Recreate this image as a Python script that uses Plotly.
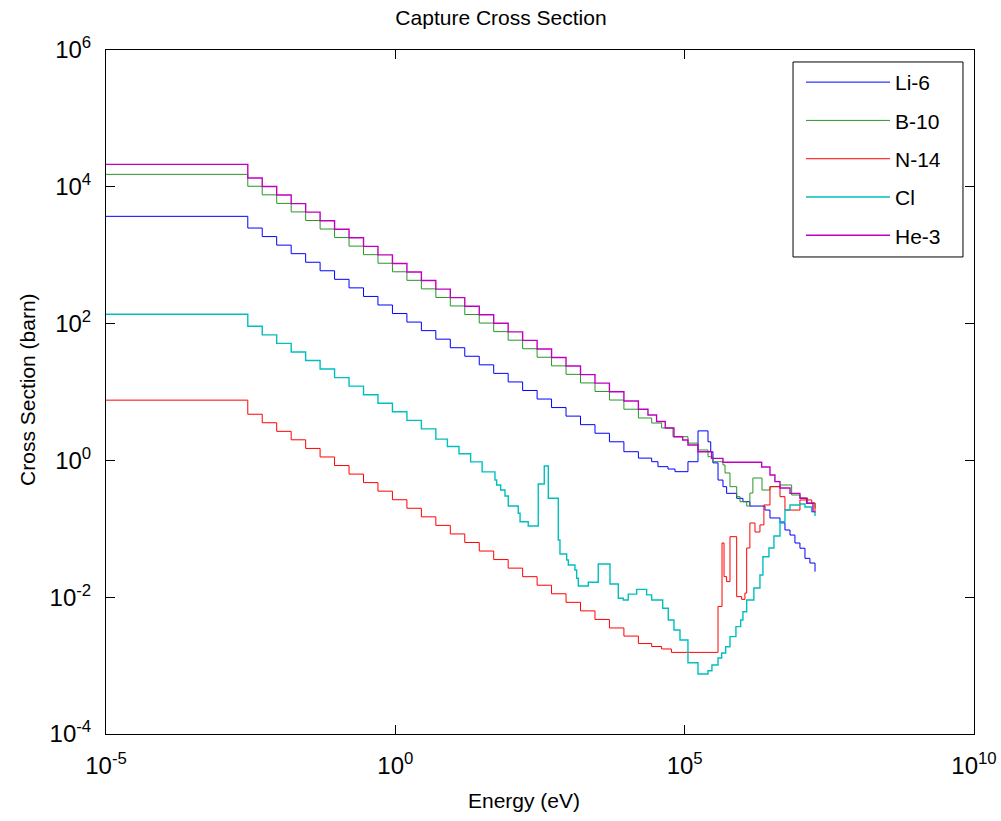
import plotly.graph_objects as go

# ---- data (energy in eV = start of each step, cross section in barn) ----
energy_low = [1e-5, 2.82e-3, 5.01e-3, 8.91e-3, 1.585e-2, 2.82e-2, 5.01e-2, 8.91e-2,
              0.1585, 0.282, 0.501, 0.891, 1.585, 2.82, 5.01, 8.91, 15.85, 28.2,
              50.1, 89.1, 158.5, 282, 501, 891, 1585, 2820, 5010, 8910]

li6_low = [3700, 2495, 1871, 1403, 1053, 789, 592, 444, 333, 249.5, 187.1, 140.3,
           105.3, 78.9, 59.2, 44.4, 33.3, 24.95, 18.71, 14.03, 10.53, 7.89, 5.92,
           4.44, 3.33, 2.495, 1.871, 1.34]
li6_tail_e = [1.585e4, 2.69e4, 3.46e4, 5.15e4, 6.81e4, 1.14e5, 1.70e5, 2.53e5, 2.82e5,
              3.08e5, 3.77e5, 4.59e5, 5.31e5, 7.93e5, 1.016e6, 1.34e6, 2.44e6, 2.98e6,
              4.44e6, 5.41e6, 6.61e6, 8.05e6, 9.82e6, 1.20e7, 1.46e7, 1.79e7]
li6_tail = [1.08, 0.957, 0.81, 0.748, 0.684, 0.957, 2.7, 1.87, 1.34, 0.92, 0.516,
            0.413, 0.33, 0.279, 0.249, 0.215, 0.188, 0.144, 0.122, 0.096, 0.081,
            0.062, 0.052, 0.037, 0.0316, 0.0236]

b10_low = [15200, 10180, 7632, 5722, 4293, 3219, 2414, 1810, 1357, 1018, 763, 572,
           429, 322, 241, 181, 135.7, 101.8, 76.3, 57.2, 42.9, 32.2, 24.1, 18.1,
           13.57, 10.18, 7.63, 5.6]
b10_tail_e = [1.585e4, 2.69e4, 4.0e4, 6.28e4, 1.14e5, 1.70e5, 2.53e5, 3.08e5, 4.59e5,
              4.98e5, 6.07e5, 7.93e5, 9.04e5, 1.18e6, 1.34e6, 1.51e6, 2.17e6, 2.98e6,
              4.44e6, 7.06e6, 9.82e6, 1.33e7, 1.79e7]
b10_tail = [4.17, 3.52, 2.98, 2.22, 1.79, 1.42, 1.13, 0.957, 0.857, 0.655, 0.413,
            0.295, 0.249, 0.215, 0.333, 0.553, 0.369, 0.413, 0.437, 0.312, 0.282,
            0.238, 0.2]

n14_low = [7.6, 4.73, 3.55, 2.66, 2.0, 1.496, 1.122, 0.841, 0.631, 0.473, 0.355,
           0.266, 0.1995, 0.1496, 0.1122, 0.0841, 0.0631, 0.0473, 0.0355, 0.0266,
           0.01995, 0.01496, 0.01122, 0.00841, 0.00631, 0.00473, 0.00355, 0.0027]
n14_tail_e = [1.585e4, 2.69e4, 4.0e4, 5.9e4, 3.77e5, 4.42e5, 4.79e5, 5.31e5, 6.07e5,
              7.93e5, 9.66e5, 1.10e6, 1.18e6, 1.34e6, 1.64e6, 2.0e6, 2.34e6, 2.98e6,
              4.44e6, 5.41e6, 9.82e6, 1.57e7, 1.79e7]
n14_tail = [0.0021, 0.0019, 0.00175, 0.00156, 0.00733, 0.062, 0.02, 0.0169, 0.0767,
            0.0102, 0.0093, 0.0115, 0.0524, 0.1216, 0.0898, 0.114, 0.223, 0.413,
            0.295, 0.188, 0.264, 0.238, 0.17]

cl_low = [137, 91.3, 68.5, 51.4, 38.5, 28.9, 21.7, 16.2, 12.2, 9.13, 6.85, 5.14,
          3.85, 2.89]
cl_tail_e = [5.01, 7.94, 12.6, 20.0, 31.6, 52.7, 56.4, 66.1, 78.5, 89.5, 133, 143,
             198, 295, 375, 440, 655, 700, 914, 975, 1270, 1360, 1450, 2160, 3210,
             5120, 7130, 8690, 1.06e4, 1.48e4, 2.20e4, 2.69e4, 4.17e4, 5.21e4,
             6.53e4, 8.30e4, 1.14e5, 1.70e5, 2.53e5, 2.96e5, 3.77e5, 4.36e5, 5.11e5,
             6.07e5, 7.69e5, 9.29e5, 1.016e6, 1.18e6, 1.57e6, 2.00e6, 2.25e6, 2.86e6,
             3.49e6, 4.44e6, 5.41e6, 6.61e6, 9.82e6, 1.20e7, 1.57e7, 1.79e7]
cl_tail = [2.05, 1.6, 1.25, 0.95, 0.68, 0.516, 0.437, 0.369, 0.302, 0.215, 0.169,
           0.127, 0.110, 0.452, 0.828, 0.279, 0.0686, 0.0428, 0.035, 0.0296, 0.025,
           0.0189, 0.0146, 0.0165, 0.0305, 0.0156, 0.00964, 0.0091, 0.0111, 0.0130,
           0.0108, 0.0091, 0.00689, 0.00465, 0.00331, 0.00237, 0.0011, 0.000753,
           0.000841, 0.00102, 0.00129, 0.00153, 0.00189, 0.00265, 0.00371, 0.00465,
           0.00614, 0.0091, 0.0136, 0.0211, 0.0391, 0.0524, 0.0785, 0.127, 0.188,
           0.223, 0.231, 0.208, 0.178, 0.154]

he3_low = [21300, 13470, 10100, 7575, 5683, 4260, 3195, 2395, 1797, 1347, 1010, 757,
           568, 426, 319.5, 239.5, 179.7, 134.7, 101, 75.7, 56.8, 42.6, 31.95, 23.95,
           17.97, 13.47, 10.1, 7.4]
he3_tail_e = [1.585e4, 2.32e4, 3.27e4, 4.62e4, 6.53e4, 9.23e4, 1.14e5, 1.70e5, 2.92e5,
              4.59e5, 2.14e6, 2.98e6, 3.63e6, 4.44e6, 6.61e6, 9.82e6, 1.28e7, 1.65e7,
              1.79e7]
he3_tail = [5.6, 4.6, 3.7, 2.98, 2.22, 1.99, 1.68, 1.34, 1.07, 0.94, 0.80, 0.612,
            0.489, 0.395, 0.33, 0.279, 0.236, 0.178, 0.178]

series_names = ["Li-6", "B-10", "N-14", "Cl", "He-3"]
series_colors = ["rgb(0,0,255)", "rgb(40,150,40)", "rgb(255,0,0)",
                 "rgb(0,191,191)", "rgb(191,0,191)"]
series_widths = [1.0, 1.0, 1.0, 1.4, 1.4]

x_tickvals = [1e-5, 1e0, 1e5, 1e10]
x_ticktext = ["10<sup>-5</sup>", "10<sup>0</sup>", "10<sup>5</sup>", "10<sup>10</sup>"]
y_tickvals = [1e-4, 1e-2, 1e0, 1e2, 1e4, 1e6]
y_ticktext = ["10<sup>-4</sup>", "10<sup>-2</sup>", "10<sup>0</sup>",
              "10<sup>2</sup>", "10<sup>4</sup>", "10<sup>6</sup>"]

series_x = [energy_low + li6_tail_e,
            energy_low + b10_tail_e,
            energy_low + n14_tail_e,
            energy_low[:14] + cl_tail_e,
            energy_low + he3_tail_e]
series_y = [li6_low + li6_tail,
            b10_low + b10_tail,
            n14_low + n14_tail,
            cl_low + cl_tail,
            he3_low + he3_tail]

FONT = "Liberation Sans, Arial, Helvetica, sans-serif"

fig = go.Figure()
for i, name in enumerate(series_names):
    fig.add_trace(go.Scatter(
        x=series_x[i], y=series_y[i], mode="lines", name=name,
        line=dict(color=series_colors[i], width=series_widths[i], shape="hv"),
        legendgroup=name,
    ))

axis_common = dict(
    type="log", showgrid=False, zeroline=False, showline=True, linecolor="black",
    linewidth=1, mirror="ticks", ticks="inside", ticklen=9, tickwidth=1,
    tickcolor="black", tickmode="array",
    tickfont=dict(family=FONT, size=24, color="black"),
)

fig.update_xaxes(range=[-5, 10], tickvals=x_tickvals, ticktext=x_ticktext,
                 ticklabelstandoff=10, **axis_common)
fig.update_yaxes(range=[-4, 6], tickvals=y_tickvals, ticktext=y_ticktext,
                 ticklabelstandoff=9, **axis_common)

fig.update_layout(
    width=1001, height=821,
    margin=dict(l=106, r=27, t=50, b=87, autoexpand=False),
    paper_bgcolor="white", plot_bgcolor="white",
    font=dict(family=FONT, color="black"),
    title=dict(text="Capture Cross Section", xref="container", x=0.5005,
               xanchor="center", yref="container", y=0.978, yanchor="middle",
               font=dict(family=FONT, size=21, color="black")),
    legend=dict(x=0.8007, y=0.9825, xanchor="left", yanchor="top",
                bgcolor="rgba(0,0,0,0)", borderwidth=0,
                font=dict(family=FONT, size=21, color="black"),
                itemwidth=84, traceorder="grouped", tracegroupgap=8),
    shapes=[
        # legend frame (MATLAB-style box, wider than the legend text)
        dict(type="rect", xref="paper", yref="paper", x0=0.7915, x1=0.9873,
             y0=0.6974, y1=0.9825, line=dict(color="black", width=1),
             fillcolor="white", layer="above"),
    ],
    annotations=[
        dict(text="Energy (eV)", xref="paper", yref="paper", x=0.4816, y=-0.0965,
             xanchor="center", yanchor="middle", showarrow=False,
             font=dict(family=FONT, size=21, color="black")),
        dict(text="Cross Section (barn)", xref="paper", yref="paper", x=-0.0899,
             y=0.5044, xanchor="center", yanchor="middle", textangle=-90,
             showarrow=False, font=dict(family=FONT, size=21, color="black")),
    ],
)

fig.write_html("out.html")
